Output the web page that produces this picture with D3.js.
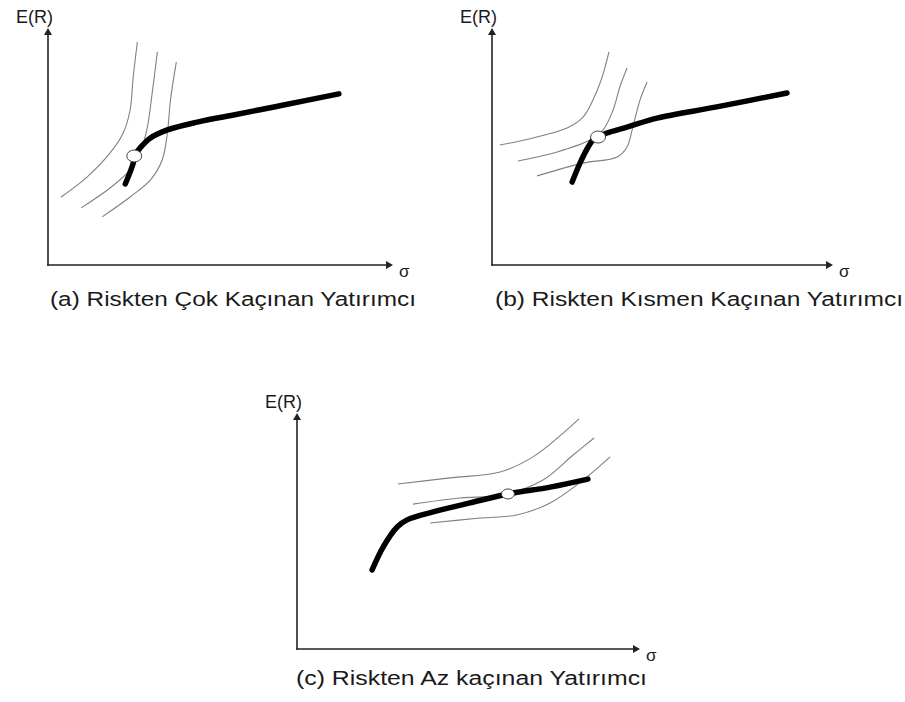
<!DOCTYPE html>
<html>
<head>
<meta charset="utf-8">
<script src="https://cdn.jsdelivr.net/npm/d3@7"></script>
<style>
  body { margin: 0; background: #fff; }
  text { font-family: "Liberation Sans", Arial, sans-serif; fill: #1a1a1a; }
</style>
</head>
<body>
<script>
const width = 905;
const height = 702;

// values in chart units: sigma (x) and E(R) (y), both axes 0..100
const captions = [
  "(a) Riskten Çok Kaçınan Yatırımcı",
  "(b) Riskten Kısmen Kaçınan Yatırımcı",
  "(c) Riskten Az kaçınan Yatırımcı"
];

// (a) strongly risk averse
const frontierA = [[22.4,34.2],[24.7,43.0],[25.0,46.0],[26.7,49.4],[29.7,53.6],[34.6,57.0],[43.3,60.3],[53.8,63.3],[68.3,67.5],[84.3,72.2]];
const curvesA = [
  [[3.8,28.7],[11.3,37.1],[18.0,47.3],[21.8,55.7],[23.8,65.4],[24.7,79.3],[25.9,94.1]],
  [[9.6,24.1],[18.0,32.5],[23.8,40.1],[26.7,47.3],[28.8,58.2],[30.2,72.6],[31.7,89.9]],
  [[15.7,20.3],[23.8,28.7],[29.7,35.9],[33.1,44.3],[34.6,55.7],[35.5,69.6],[37.2,85.7]]
];
const optimumA = [25.0, 46.0];

// (b) moderately risk averse
const frontierB = [[23.5,35.0],[25.8,43.0],[28.2,49.8],[29.6,52.7],[31.1,54.0],[33.7,55.7],[39.6,58.2],[48.4,62.0],[65.9,66.7],[86.5,72.6]];
const curvesB = [
  [[2.3,50.6],[12.0,53.6],[22.0,57.8],[26.7,62.4],[29.6,69.6],[32.3,79.3],[34.3,89.9]],
  [[7.6,43.9],[19.1,47.7],[28.7,52.7],[32.6,57.0],[35.5,65.4],[37.5,75.1],[39.6,83.1]],
  [[13.2,37.6],[26.7,43.0],[36.7,45.6],[39.6,49.8],[41.3,58.2],[43.4,69.6],[45.5,77.2]]
];
const optimumB = [31.1, 54.0];

// (c) slightly risk averse
const frontierC = [[21.9,33.5],[25.1,43.2],[29.2,51.7],[32.1,54.7],[39.7,58.1],[50.4,61.9],[61.5,65.7],[73.8,68.6],[84.8,72.0]];
const curvesC = [
  [[29.4,69.9],[44.6,72.5],[59.2,75.0],[68.8,81.4],[77.6,91.5],[82.2,97.5]],
  [[33.8,61.4],[47.5,64.0],[60.1,65.3],[71.7,71.6],[80.5,82.2],[86.6,89.4]],
  [[38.8,53.4],[53.4,55.5],[64.1,56.8],[73.8,61.9],[83.4,71.6],[91.3,81.4]]
];
const optimumC = [61.5, 65.7];

// layout of each small chart (pixel frame)
const panels = [
  { x0: 48,  y0: 265, x1: 393, y1: 28,  r: [7.5, 6], cap: [50, 306, 366],  frontier: frontierA, curves: curvesA, opt: optimumA, title: captions[0] },
  { x0: 492, y0: 265, x1: 833, y1: 28,  r: [7.5, 6], cap: [495, 306, 408], frontier: frontierB, curves: curvesB, opt: optimumB, title: captions[1] },
  { x0: 297, y0: 649, x1: 640, y1: 413, r: [6.5, 5], cap: [296, 685, 351], frontier: frontierC, curves: curvesC, opt: optimumC, title: captions[2] }
];

const svg = d3.select("body").append("svg")
  .attr("width", width)
  .attr("height", height);

panels.forEach(function(p) {
  const x = d3.scaleLinear().domain([0, 100]).range([p.x0, p.x1]);
  const y = d3.scaleLinear().domain([0, 100]).range([p.y0, p.y1]);

  const g = svg.append("g");

  // axes, no ticks
  const xAxis = g.append("g")
    .attr("transform", "translate(0," + p.y0 + ")")
    .call(d3.axisBottom(x).ticks(0).tickSize(0).tickSizeOuter(0));
  const yAxis = g.append("g")
    .attr("transform", "translate(" + p.x0 + ",0)")
    .call(d3.axisLeft(y).ticks(0).tickSize(0).tickSizeOuter(0));
  [xAxis, yAxis].forEach(function(a) {
    a.select(".domain")
      .attr("stroke", "#222")
      .attr("stroke-width", 1.6);
  });
  yAxis.select(".domain").attr("d", "M0," + (p.y0 + 0.8) + "V" + (p.y1 + 3));
  xAxis.select(".domain").attr("d", "M" + (p.x0 - 0.8) + ",0H" + (p.x1 - 3));

  // arrow heads
  g.append("path")
    .attr("d", "M" + p.x1 + "," + p.y0 + "l-7,-4l0,8z")
    .attr("fill", "#222");
  g.append("path")
    .attr("d", "M" + p.x0 + "," + p.y1 + "l-4,7l8,0z")
    .attr("fill", "#222");

  g.append("text")
    .attr("x", p.x0 + 5).attr("y", p.y1 - 5)
    .attr("text-anchor", "end")
    .attr("font-size", 18)
    .text("E(R)");

  g.append("text")
    .attr("x", p.x1 + 6).attr("y", p.y0 + 12)
    .attr("font-size", 17)
    .text("σ");

  const line = d3.line()
    .x(d => x(d[0]))
    .y(d => y(d[1]))
    .curve(d3.curveCatmullRom.alpha(0.5));

  g.selectAll("path.indiff")
    .data(p.curves)
    .join("path")
    .attr("class", "indiff")
    .attr("d", line)
    .attr("fill", "none")
    .attr("stroke", "#808080")
    .attr("stroke-width", 1.1);

  g.append("path")
    .attr("d", line(p.frontier))
    .attr("fill", "none")
    .attr("stroke", "#000")
    .attr("stroke-width", 5.5)
    .attr("stroke-linecap", "round")
    .attr("stroke-linejoin", "round");

  g.append("ellipse")
    .attr("cx", x(p.opt[0])).attr("cy", y(p.opt[1]))
    .attr("rx", p.r[0]).attr("ry", p.r[1])
    .attr("fill", "#fff")
    .attr("stroke", "#444")
    .attr("stroke-width", 1);

  g.append("text")
    .attr("x", p.cap[0]).attr("y", p.cap[1])
    .attr("font-size", 20)
    .attr("textLength", p.cap[2])
    .attr("lengthAdjust", "spacingAndGlyphs")
    .text(p.title);
});
</script>
</body>
</html>
